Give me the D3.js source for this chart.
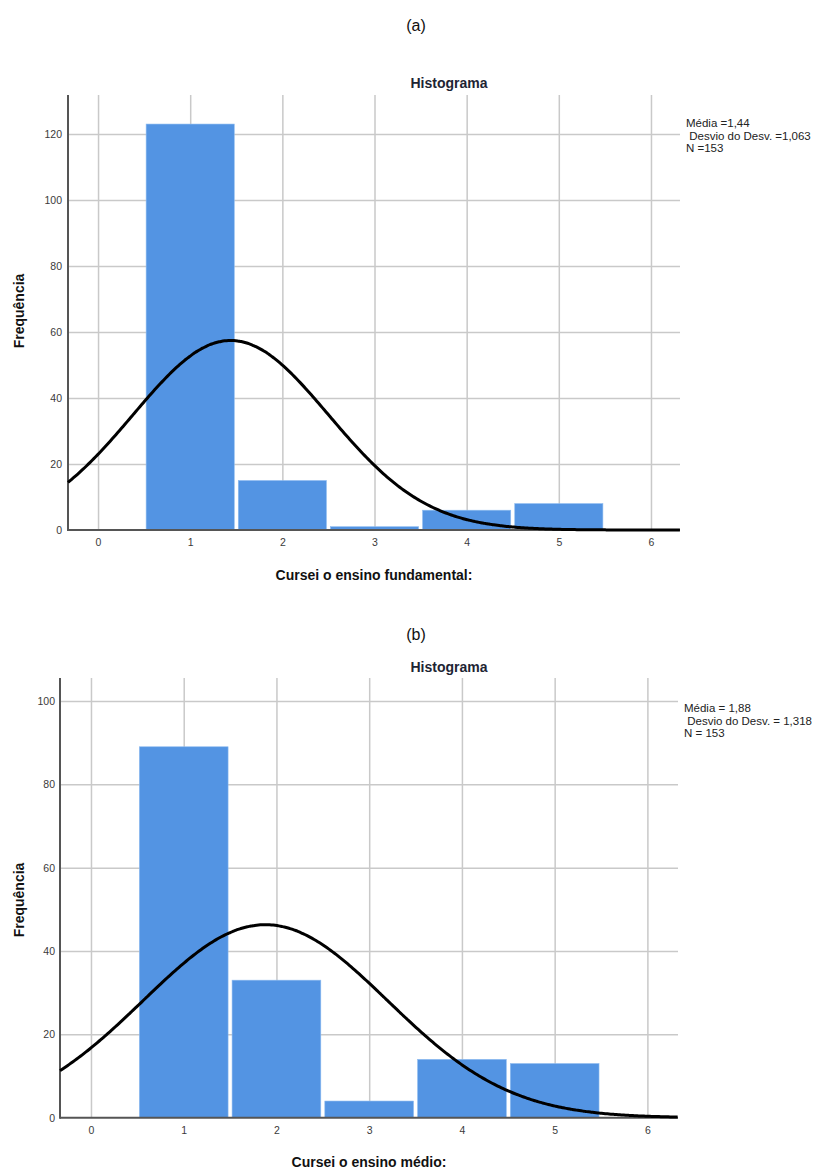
<!DOCTYPE html>
<html>
<head>
<meta charset="utf-8">
<script src="https://cdn.jsdelivr.net/npm/d3@7"></script>
<style>
    body { margin: 0; background: #fff; }
    svg { display: block; font-family: "Liberation Sans", Arial, sans-serif; }
    .grid line { stroke: #c9c9c9; stroke-width: 1.5; }
    .grid path { display: none; }
    .tick-label text { fill: #3a3a3a; font-size: 10.5px; }
    .tick-label path, .tick-label line { display: none; }
</style>
</head>
<body>
<div id="chart"></div>
<script>
// bins (values of the answer)
const bins = [1, 2, 3, 4, 5];
const xTicks = [0, 1, 2, 3, 4, 5, 6];

// (a) Cursei o ensino fundamental
const countsA = [123, 15, 1, 6, 8];
const yTicksA = [0, 20, 40, 60, 80, 100, 120];
const statsA = { mean: 1.44, sd: 1.063, n: 153 };
const statTextA = ['Média =1,44', ' Desvio do Desv. =1,063', 'N =153'];

// (b) Cursei o ensino médio
const countsB = [89, 33, 4, 14, 13];
const yTicksB = [0, 20, 40, 60, 80, 100];
const statsB = { mean: 1.88, sd: 1.318, n: 153 };
const statTextB = ['Média = 1,88', ' Desvio do Desv. = 1,318', 'N = 153'];

const svg = d3.select('#chart').append('svg')
    .attr('width', 819)
    .attr('height', 1169);

let drawHist = (cfg) => {

    const x = d3.scaleLinear().domain(cfg.xDomain).range([cfg.left, cfg.right]);
    const y = d3.scaleLinear().domain([0, cfg.yMax]).range([cfg.bottom, cfg.top]);

    const g = svg.append('g');

    // panel label, e.g. (a)
    g.append('text')
        .attr('x', 416).attr('y', cfg.labelY)
        .attr('text-anchor', 'middle')
        .attr('font-size', 16)
        .attr('fill', '#111')
        .text(cfg.label);

    g.append('text')
        .attr('x', 449).attr('y', cfg.titleY)
        .attr('text-anchor', 'middle')
        .attr('font-size', 14)
        .attr('font-weight', 'bold')
        .attr('fill', '#1d2433')
        .text('Histograma');

    // grid
    g.append('g')
        .attr('class', 'grid')
        .attr('transform', `translate(0, ${cfg.bottom})`)
        .call(d3.axisBottom(x).tickValues(xTicks).tickSize(-(cfg.bottom - cfg.top)).tickFormat(''));

    g.append('g')
        .attr('class', 'grid')
        .attr('transform', `translate(${cfg.left}, 0)`)
        .call(d3.axisLeft(y).tickValues(cfg.yTicks.filter(t => t > 0)).tickSize(-(cfg.right - cfg.left)).tickFormat(''));

    // bars
    g.selectAll('.bar')
        .data(bins).enter()
        .append('rect')
        .attr('class', 'bar')
        .attr('x', (d) => x(d - 0.5) + 2)
        .attr('width', (d) => x(d + 0.5) - x(d - 0.5) - 4)
        .attr('y', (d, i) => y(cfg.counts[i]))
        .attr('height', (d, i) => y(0) - y(cfg.counts[i]))
        .attr('fill', '#5394e3')
        .attr('stroke', '#8fbcf0')
        .attr('stroke-width', 0.6);

    // axes lines
    g.append('line')
        .attr('x1', cfg.left).attr('x2', cfg.right)
        .attr('y1', y(0)).attr('y2', y(0))
        .attr('stroke', '#555').attr('stroke-width', 2);

    g.append('line')
        .attr('x1', cfg.left).attr('x2', cfg.left)
        .attr('y1', cfg.top).attr('y2', y(0) + 1)
        .attr('stroke', '#555').attr('stroke-width', 2);

    // normal curve from the shown mean / sd / N
    const s = cfg.stats;
    const normal = v => s.n / (s.sd * Math.sqrt(2 * Math.PI)) * Math.exp(-0.5 * Math.pow((v - s.mean) / s.sd, 2));
    const curveX = d3.range(cfg.xDomain[0], cfg.xDomain[1] + 0.001, 0.02);

    const line = d3.line()
        .x(d => x(d))
        .y(d => y(normal(d)))
        .curve(d3.curveMonotoneX);

    g.append('path')
        .attr('d', line(curveX))
        .attr('fill', 'none')
        .attr('stroke', '#000')
        .attr('stroke-width', 3);

    // tick labels
    g.append('g')
        .attr('class', 'tick-label')
        .attr('transform', `translate(${cfg.left}, 0)`)
        .call(d3.axisLeft(y).tickValues(cfg.yTicks).tickSize(0).tickPadding(cfg.yPad));

    g.append('g')
        .attr('class', 'tick-label')
        .attr('transform', `translate(0, ${cfg.bottom})`)
        .call(d3.axisBottom(x).tickValues(xTicks).tickFormat(d3.format('d')).tickSize(0).tickPadding(9))
        .selectAll('text').attr('font-size', '10px');

    // axis titles
    g.append('text')
        .attr('x', (cfg.left + cfg.right) / 2)
        .attr('y', cfg.xTitleY)
        .attr('text-anchor', 'middle')
        .attr('font-size', 14)
        .attr('font-weight', 'bold')
        .attr('fill', '#111')
        .text(cfg.xTitle);

    g.append('text')
        .attr('transform', `translate(24, ${cfg.yTitleY}) rotate(-90)`)
        .attr('text-anchor', 'middle')
        .attr('font-size', 14)
        .attr('font-weight', 'bold')
        .attr('fill', '#111')
        .text('Frequência');

    // stats box
    g.append('text')
        .attr('font-size', 11.5)
        .attr('fill', '#222')
        .selectAll('tspan')
        .data(cfg.statText).enter()
        .append('tspan')
        .attr('x', cfg.right + 6)
        .attr('y', (d, i) => cfg.statY + i * 12.5)
        .attr('xml:space', 'preserve')
        .style('white-space', 'pre')
        .text(d => d);
}

drawHist({
    label: '(a)', labelY: 31, titleY: 88,
    counts: countsA, yTicks: yTicksA, stats: statsA, statText: statTextA,
    left: 68, right: 680, top: 95, bottom: 530,
    xDomain: [-0.326, 6.315], yMax: 131.8, yPad: 6,
    xTitle: 'Cursei o ensino fundamental:', xTitleY: 580, yTitleY: 311,
    statY: 127
});

drawHist({
    label: '(b)', labelY: 640, titleY: 672,
    counts: countsB, yTicks: yTicksB, stats: statsB, statText: statTextB,
    left: 60, right: 678, top: 678, bottom: 1117.7,
    xDomain: [-0.334, 6.33], yMax: 105.5, yPad: 5,
    xTitle: 'Cursei o ensino médio:', xTitleY: 1167, yTitleY: 900,
    statY: 712
});
</script>
</body>
</html>
